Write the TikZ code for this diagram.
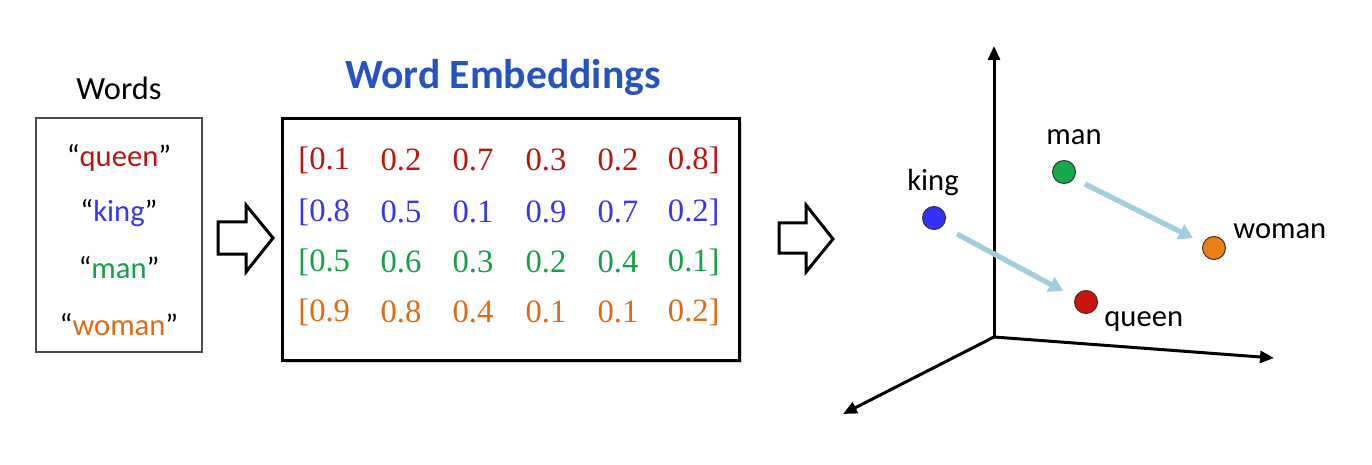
\documentclass[tikz,border=0pt]{standalone}
\usepackage{fontspec}
\setmainfont{Carlito}
\newfontfamily\serifnum{Liberation Serif}
\usetikzlibrary{arrows.meta}
\definecolor{cred}{RGB}{185,22,18}
\definecolor{cblue}{RGB}{55,55,240}
\definecolor{cgreen}{RGB}{22,160,72}
\definecolor{corange}{RGB}{222,108,22}
\definecolor{ctitle}{RGB}{38,84,190}
\definecolor{carrow}{RGB}{160,206,222}
\definecolor{dred}{RGB}{200,20,10}
\definecolor{dblue}{RGB}{50,50,250}
\definecolor{dgreen}{RGB}{20,172,72}
\definecolor{dorange}{RGB}{236,126,22}
\tikzset{
  wordtxt/.style={font=\fontsize{15.3pt}{18pt}\selectfont, anchor=center, inner sep=0pt},
  numtxt/.style={font=\serifnum\fontsize{16.3pt}{19pt}\selectfont, anchor=center, inner sep=0pt},
  lbl/.style={font=\fontsize{15.3pt}{18pt}\selectfont, inner sep=0pt, text=black},
  hollow/.style={draw=black, line width=1.5pt, fill=white, line join=miter},
  axis/.style={draw=black, line width=1.5pt, -{Triangle[length=7pt,width=6pt]}},
  pt/.style={circle, draw=black!80, line width=0.5pt, minimum size=11.5pt, inner sep=0pt},
  vec/.style={draw=carrow, line width=2.6pt, -{Triangle[length=7pt,width=8pt]}}
}
\begin{document}
\begin{tikzpicture}[x=0.5pt,y=-0.5pt]
\useasboundingbox (0,0) rectangle (1372,465);
% Words box
\node[font=\fontsize{16.2pt}{19pt}\selectfont, inner sep=0pt] (wtitle) at (119,88) {Words};
\node[draw=black!70, line width=0.6pt, minimum width=83pt, minimum height=117pt, inner sep=0pt] (wbox) at (119,235) {};
\node[wordtxt] (wq) at (119,158) {“\textcolor{cred}{queen}”};
\node[wordtxt] (wk) at (119,213) {“\textcolor{cblue}{king}”};
\node[wordtxt] (wm) at (119,268) {“\textcolor{cgreen}{man}”};
\node[wordtxt] (ww) at (119,325) {“\textcolor{corange}{woman}”};
% hollow arrow 1
\draw[hollow] (218,222) -- (246,222) -- (246,205) -- (273,238) -- (246,272) -- (246,254) -- (218,254) -- cycle;
% Embeddings
\node[font=\bfseries\fontsize{20.8pt}{24pt}\selectfont, text=ctitle, inner sep=0pt] (etitle) at (503,77) {Word Embeddings};
\fill[black!15] (285,122) rectangle (742,363);
\node[draw=black, line width=1.5pt, fill=white, minimum width=228.5pt, minimum height=120.5pt, inner sep=0pt] (ebox) at (510.5,239.5) {};
\foreach \row/\col/\y/\a/\b/\c/\d/\e/\f in {1/cred/160/0.1/0.2/0.7/0.3/0.2/0.8, 2/cblue/212/0.8/0.5/0.1/0.9/0.7/0.2, 3/cgreen/262/0.5/0.6/0.3/0.2/0.4/0.1, 4/corange/312/0.9/0.8/0.4/0.1/0.1/0.2}{
  \node[numtxt, text=\col, anchor=west] (r\row c1) at (298,\y) {[\a};
  \node[numtxt, text=\col] (r\row c2) at (401,\y) {\b};
  \node[numtxt, text=\col] (r\row c3) at (473,\y) {\c};
  \node[numtxt, text=\col] (r\row c4) at (546,\y) {\d};
  \node[numtxt, text=\col] (r\row c5) at (618,\y) {\e};
  \node[numtxt, text=\col, anchor=east] (r\row c6) at (720,\y) {\f]};
}
% hollow arrow 2
\draw[hollow] (779,223) -- (806,223) -- (806,205) -- (833,239) -- (806,272) -- (806,253) -- (779,253) -- cycle;
% axes
\coordinate (o) at (994,337);
\coordinate (ay) at (994,46);
\coordinate (ax) at (1274,358);
\coordinate (az) at (843,414);
\draw[axis] (o) -- (ay);
\draw[axis] (o) -- (ax);
\draw[axis] (o) -- (az);
% points
\node[pt, fill=dblue] (king) at (934,218) {};
\node[pt, fill=dgreen] (man) at (1064,172) {};
\node[pt, fill=dorange] (woman) at (1214,248) {};
\node[pt, fill=dred] (queen) at (1086,302) {};
\node[lbl] (lking) at (933,183) {king};
\node[lbl] (lman) at (1074,137) {man};
\node[lbl, anchor=west] (lwoman) at (1233,231) {woman};
\node[lbl, anchor=west] (lqueen) at (1104,322) {queen};
% vectors
\coordinate (ks) at (957,234);
\coordinate (qe) at (1063,291);
\coordinate (ms) at (1085,184);
\coordinate (we) at (1193,238);
\draw[vec] (ks) -- (qe);
\draw[vec] (ms) -- (we);
\end{tikzpicture}
\end{document}
